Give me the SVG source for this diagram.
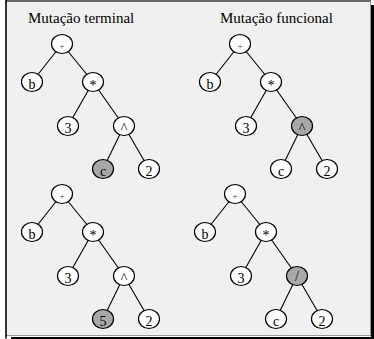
<svg xmlns="http://www.w3.org/2000/svg" width="374" height="339" viewBox="0 0 374 339">
<style>
.n{fill:#fff;stroke:#000;stroke-width:1.2}
.m{fill:#a8a8a8;stroke:#000;stroke-width:1.2}
.e line{stroke:#000;stroke-width:1.1}
text{font-family:"Liberation Serif","Times New Roman",serif;text-anchor:middle;fill:#000}
.t{font-size:14px}
.p{font-size:9px;fill:#444}
.h{font-size:15px;text-anchor:start}
</style>
<defs>
<ellipse id="node" rx="10.5" ry="9.5"/>
</defs>
<g id="frame">
<rect x="6" y="1" width="365" height="335" fill="#f0f0f0"/>
<line x1="6" y1="1" x2="371" y2="1" stroke="#666" stroke-width="2"/>
<line x1="370.5" y1="1" x2="370.5" y2="336" stroke="#999" stroke-width="1"/>
<line x1="6" y1="335.5" x2="371" y2="335.5" stroke="#999" stroke-width="1"/>
<line x1="6" y1="0" x2="6" y2="338.5" stroke="#000" stroke-width="1.6"/>
<line x1="372.5" y1="5" x2="372.5" y2="339" stroke="#000" stroke-width="3"/>
<line x1="11" y1="338" x2="374" y2="338" stroke="#000" stroke-width="2"/>
</g>
<g id="titles">
<text class="h" x="28" y="23">Mutação terminal</text>
<text class="h" x="220" y="23">Mutação funcional</text>
</g>
<g id="connectors" class="e">
<!-- tree 1 -->
<line x1="62" y1="44" x2="32" y2="82"/><line x1="62" y1="44" x2="93" y2="82"/>
<line x1="93" y1="82" x2="68" y2="126"/><line x1="93" y1="82" x2="124" y2="126"/>
<line x1="124" y1="126" x2="103" y2="169"/><line x1="124" y1="126" x2="149" y2="169"/>
<!-- tree 2 -->
<line x1="240" y1="44" x2="210" y2="82"/><line x1="240" y1="44" x2="271" y2="82"/>
<line x1="271" y1="82" x2="246" y2="126"/><line x1="271" y1="82" x2="302" y2="126"/>
<line x1="302" y1="126" x2="281" y2="169"/><line x1="302" y1="126" x2="327" y2="169"/>
<!-- tree 3 -->
<line x1="62" y1="194" x2="32" y2="232"/><line x1="62" y1="194" x2="93" y2="232"/>
<line x1="93" y1="232" x2="68" y2="276"/><line x1="93" y1="232" x2="124" y2="276"/>
<line x1="124" y1="276" x2="103" y2="319"/><line x1="124" y1="276" x2="149" y2="319"/>
<!-- tree 4 -->
<line x1="235" y1="194" x2="205" y2="232"/><line x1="235" y1="194" x2="266" y2="232"/>
<line x1="266" y1="232" x2="241" y2="276"/><line x1="266" y1="232" x2="297" y2="276"/>
<line x1="297" y1="276" x2="276" y2="319"/><line x1="297" y1="276" x2="322" y2="319"/>
</g>
<g id="t1-plus"><use href="#node" class="n" x="62" y="44"/><text class="p" x="62" y="48.5">+</text></g>
<g id="t1-b"><use href="#node" class="n" x="32" y="82"/><text class="t" x="32" y="89">b</text></g>
<g id="t1-mul"><use href="#node" class="n" x="93" y="82"/><text class="t" x="93" y="90">*</text></g>
<g id="t1-3"><use href="#node" class="n" x="68" y="126"/><text class="t" x="68" y="133">3</text></g>
<g id="t1-pow"><use href="#node" class="n" x="124" y="126"/><text class="t" x="124" y="133">^</text></g>
<g id="t1-c"><use href="#node" class="m" x="103" y="169"/><text class="t" x="103" y="176">c</text></g>
<g id="t1-2"><use href="#node" class="n" x="149" y="169"/><text class="t" x="149" y="176">2</text></g>

<g id="t2-plus"><use href="#node" class="n" x="240" y="44"/><text class="p" x="240" y="48.5">+</text></g>
<g id="t2-b"><use href="#node" class="n" x="210" y="82"/><text class="t" x="210" y="89">b</text></g>
<g id="t2-mul"><use href="#node" class="n" x="271" y="82"/><text class="t" x="271" y="90">*</text></g>
<g id="t2-3"><use href="#node" class="n" x="246" y="126"/><text class="t" x="246" y="133">3</text></g>
<g id="t2-pow"><use href="#node" class="m" x="302" y="126"/><text class="t" x="302" y="133">^</text></g>
<g id="t2-c"><use href="#node" class="n" x="281" y="169"/><text class="t" x="281" y="176">c</text></g>
<g id="t2-2"><use href="#node" class="n" x="327" y="169"/><text class="t" x="327" y="176">2</text></g>

<g id="t3-plus"><use href="#node" class="n" x="62" y="194"/><text class="p" x="62" y="198.5">+</text></g>
<g id="t3-b"><use href="#node" class="n" x="32" y="232"/><text class="t" x="32" y="239">b</text></g>
<g id="t3-mul"><use href="#node" class="n" x="93" y="232"/><text class="t" x="93" y="240">*</text></g>
<g id="t3-3"><use href="#node" class="n" x="68" y="276"/><text class="t" x="68" y="283">3</text></g>
<g id="t3-pow"><use href="#node" class="n" x="124" y="276"/><text class="t" x="124" y="283">^</text></g>
<g id="t3-5"><use href="#node" class="m" x="103" y="319"/><text class="t" x="103" y="326">5</text></g>
<g id="t3-2"><use href="#node" class="n" x="149" y="319"/><text class="t" x="149" y="326">2</text></g>

<g id="t4-plus"><use href="#node" class="n" x="235" y="194"/><text class="p" x="235" y="198.5">+</text></g>
<g id="t4-b"><use href="#node" class="n" x="205" y="232"/><text class="t" x="205" y="239">b</text></g>
<g id="t4-mul"><use href="#node" class="n" x="266" y="232"/><text class="t" x="266" y="240">*</text></g>
<g id="t4-3"><use href="#node" class="n" x="241" y="276"/><text class="t" x="241" y="283">3</text></g>
<g id="t4-div"><use href="#node" class="m" x="297" y="276"/><text class="t" x="297" y="281">/</text></g>
<g id="t4-c"><use href="#node" class="n" x="276" y="319"/><text class="t" x="276" y="326">c</text></g>
<g id="t4-2"><use href="#node" class="n" x="322" y="319"/><text class="t" x="322" y="326">2</text></g>
</svg>
